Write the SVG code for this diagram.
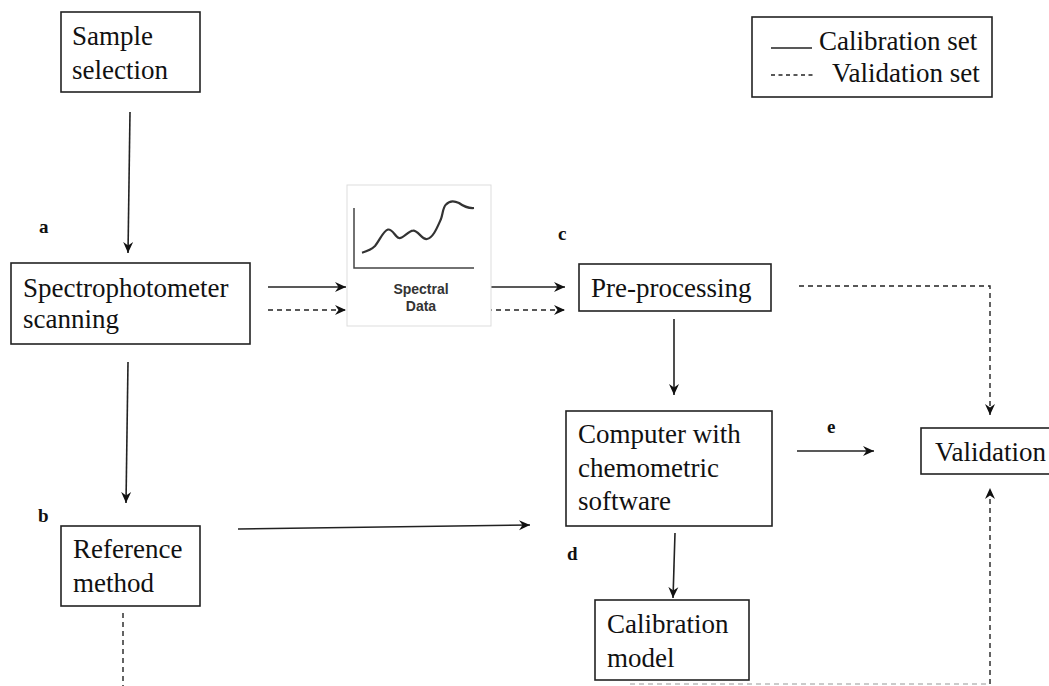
<svg xmlns="http://www.w3.org/2000/svg" width="1049" height="686" viewBox="0 0 1049 686">
<defs>
<marker id="ah" markerWidth="12" markerHeight="12" viewBox="0 0 12 12" refX="11" refY="6" orient="auto" markerUnits="userSpaceOnUse">
<path d="M0,1 L11,6 L0,11 L3.5,6 z" fill="#111"/>
</marker>
<style>
.box{fill:#fff;stroke:#222;stroke-width:1.6}
.t{font-family:"Liberation Serif","Times New Roman",serif;font-size:27px;fill:#111}
.lbl{font-family:"Liberation Serif","Times New Roman",serif;font-size:19px;font-weight:bold;fill:#111}
.s{fill:none;stroke:#222;stroke-width:1.6}
.d{fill:none;stroke:#222;stroke-width:1.4;stroke-dasharray:5,4}
.sd{font-family:"Liberation Sans",Arial,sans-serif;font-weight:bold;font-size:14px;fill:#333}
</style>
</defs>
<rect width="1049" height="686" fill="#fff"/>

<g id="connectors">
<line class="s" x1="130" y1="112" x2="128" y2="253" marker-end="url(#ah)"/>
<line class="s" x1="268" y1="287" x2="346" y2="287" marker-end="url(#ah)"/>
<line class="d" x1="268" y1="310" x2="346" y2="310" marker-end="url(#ah)"/>
<line class="s" x1="491" y1="287" x2="565" y2="287" marker-end="url(#ah)"/>
<line class="d" x1="487" y1="310" x2="565" y2="310" marker-end="url(#ah)"/>
<polyline class="d" points="799,286 990,286 990,415" marker-end="url(#ah)"/>
<line class="s" x1="674" y1="319" x2="674" y2="395" marker-end="url(#ah)"/>
<line class="s" x1="797" y1="451" x2="874" y2="451" marker-end="url(#ah)"/>
<line class="s" x1="128" y1="362" x2="126" y2="503" marker-end="url(#ah)"/>
<line class="s" x1="238" y1="529" x2="530" y2="525" marker-end="url(#ah)"/>
<line class="s" x1="675" y1="533" x2="673" y2="598" marker-end="url(#ah)"/>
<line class="d" x1="123" y1="613" x2="123" y2="686"/>
<line class="d" x1="990" y1="684" x2="990" y2="488" marker-end="url(#ah)"/>
<line x1="630" y1="684" x2="988" y2="684" stroke="#bbb" stroke-width="1.3" stroke-dasharray="5,4"/>
</g>

<g id="legend">
<rect class="box" x="752" y="17" width="240" height="80"/>
<line x1="771" y1="48" x2="812" y2="48" stroke="#222" stroke-width="1.6"/>
<line x1="771" y1="75" x2="813" y2="75" stroke="#222" stroke-width="1.3" stroke-dasharray="4,3.5"/>
<text class="t" x="819" y="50">Calibration set</text>
<text class="t" x="832" y="82">Validation set</text>
</g>

<g id="sample-selection">
<rect class="box" x="61" y="12" width="139" height="80"/>
<text class="t" x="72" y="45">Sample</text>
<text class="t" x="72" y="79">selection</text>
</g>

<g id="spectrophotometer">
<rect class="box" x="11" y="263" width="239" height="81"/>
<text class="t" x="23" y="297">Spectrophotometer</text>
<text class="t" x="23" y="328">scanning</text>
</g>

<g id="spectral-data">
<rect x="347" y="185" width="144" height="141" fill="#fff" stroke="#ddd" stroke-width="1"/>
<polyline points="354,208 354,268 474,268" fill="none" stroke="#444" stroke-width="1.5"/>
<path d="M362,252.7 C368,251 372,249 375,246 C380,240 383,231 388,229.5 C393,229 395,237 399,238 C403,239 408,231 413,230.7 C418,230 422,240 427,239 C433,238 437,228 441,219 C443,213 443,207 446,204.5 C450,200 455,201 459,203 C463,206 467,208.5 474,208" fill="none" stroke="#333" stroke-width="2.2"/>
<text class="sd" x="421" y="294" text-anchor="middle">Spectral</text>
<text class="sd" x="421" y="311" text-anchor="middle">Data</text>
</g>

<g id="pre-processing">
<rect class="box" x="579" y="264" width="192" height="47"/>
<text class="t" x="591" y="297">Pre-processing</text>
</g>

<g id="computer">
<rect class="box" x="566" y="411" width="206" height="115"/>
<text class="t" x="578" y="443">Computer with</text>
<text class="t" x="578" y="477">chemometric</text>
<text class="t" x="578" y="510">software</text>
</g>

<g id="validation">
<rect class="box" x="921" y="428" width="140" height="46"/>
<text class="t" x="935" y="461">Validation</text>
</g>

<g id="reference-method">
<rect class="box" x="61" y="526" width="139" height="80"/>
<text class="t" x="73" y="558">Reference</text>
<text class="t" x="73" y="592">method</text>
</g>

<g id="calibration-model">
<rect class="box" x="595" y="600" width="154" height="80"/>
<text class="t" x="607" y="633">Calibration</text>
<text class="t" x="607" y="667">model</text>
</g>

<g id="labels">
<text class="lbl" x="39" y="233">a</text>
<text class="lbl" x="38" y="522">b</text>
<text class="lbl" x="558" y="240">c</text>
<text class="lbl" x="567" y="560">d</text>
<text class="lbl" x="827" y="433">e</text>
</g>
</svg>
